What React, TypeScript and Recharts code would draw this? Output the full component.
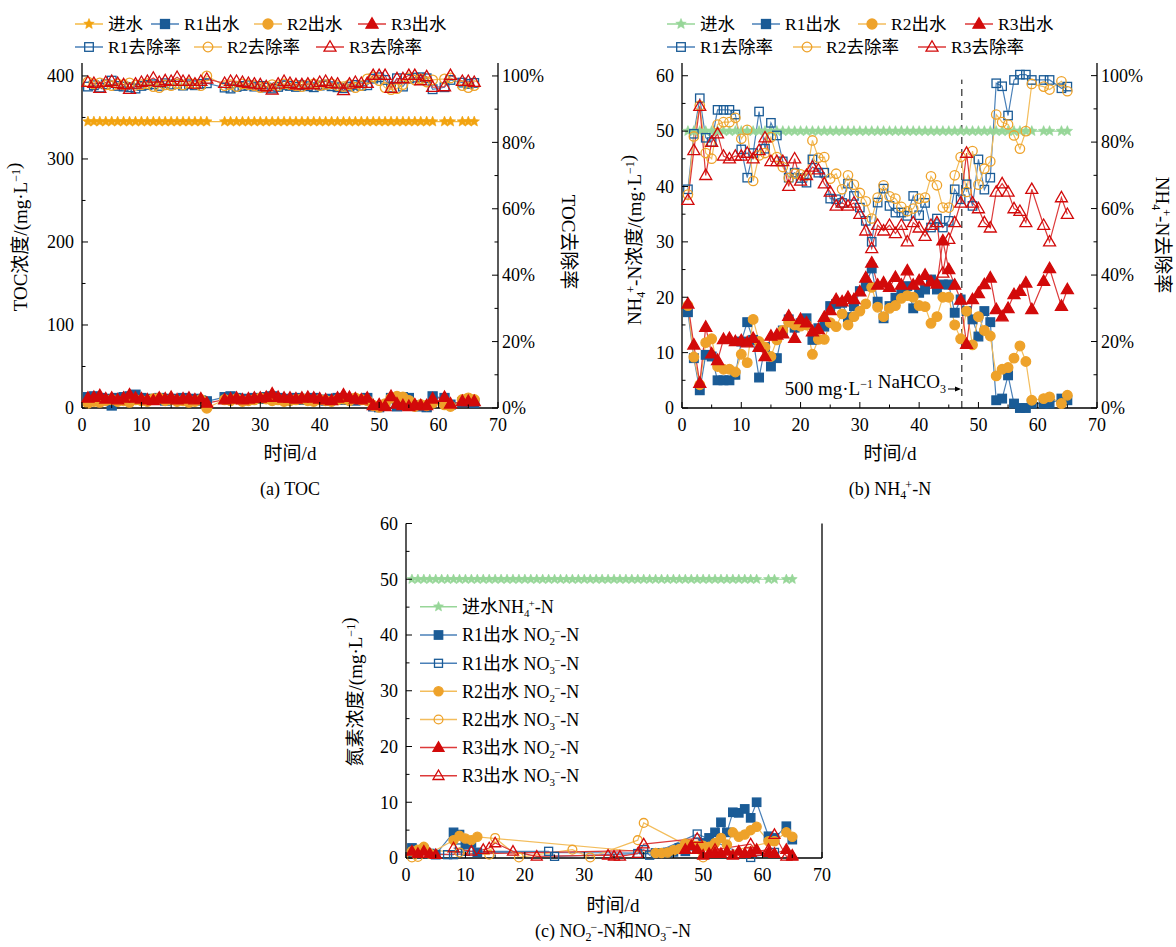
import React from "react";
import { LineChart, Line, XAxis, YAxis, Legend, ReferenceLine } from "recharts";

const FONT = "'Times New Roman', 'Liberation Serif', 'Noto Sans CJK SC', serif";

// ---------- (a) TOC ----------
const A_DAY = [
  1, 2, 3, 4, 5, 6, 7, 8, 9, 10, 11, 12, 13, 14, 15, 16, 17, 18, 19, 20, 21,
  24, 25, 26, 27, 28, 29, 30, 31, 32, 33, 34, 35, 36, 37, 38, 39, 40, 41, 42, 43, 44, 45, 46, 47, 48, 49, 50, 51, 52, 53, 54, 55, 56, 57, 58, 59,
  61, 62, 64, 65, 66,
];
const A_INF = [
  345, 345, 345, 345, 345, 345, 345, 345, 345, 345, 345, 345, 345, 345, 345, 345, 345, 345, 345, 345, 345,
  345, 345, 345, 345, 345, 345, 345, 345, 345, 345, 345, 345, 345, 345, 345, 345, 345, 345, 345, 345, 345, 345, 345, 345, 345, 345, 345, 345, 345, 345, 345, 345, 345, 345, 345, 345,
  345, 345, 345, 345, 345,
];
const A_R1_EFF = [
  13, 14, 12, 11, 3, 12, 13, 14, 16, 12, 11, 10, 12, 9, 11, 10, 12, 10, 11, 9, 8,
  13, 14, 12, 11, 10, 12, 11, 13, 14, 12, 10, 11, 12, 10, 11, 12, 10, 9, 11, 12, 10, 11, 9, 10, 12, 2, 1, 3, 12, 2, 13, 12, 3, 2, 1, 14,
  12, 4, 7, 8, 6,
];
const A_R2_EFF = [
  6, 8, 7, 9, 10, 8, 9, 7, 10, 9, 8, 11, 12, 9, 10, 8, 9, 7, 8, 10, 0,
  10, 9, 11, 8, 9, 10, 12, 11, 9, 10, 8, 9, 10, 11, 9, 8, 10, 9, 8, 10, 11, 9, 12, 10, 9, 3, 1, 5, 12, 14, 13, 9, 2, 4, 3, 6,
  4, 2, 10, 12, 10,
];
const A_R3_EFF = [
  12, 13, 15, 11, 12, 10, 12, 16, 12, 11, 10, 9, 12, 11, 13, 10, 11, 12, 10, 11, 6,
  10, 11, 12, 10, 11, 12, 12, 13, 17, 13, 12, 12, 11, 12, 13, 12, 11, 10, 9, 12, 16, 13, 11, 10, 12, 3, 4, 2, 14, 5, 3, 2, 4, 3, 3, 11,
  13, 5, 8, 8, 8,
];
const A_R1_RATE = [
  96.8, 97.2, 96.5, 97.5, 98.6, 97.0, 96.8, 96.6, 96.2, 97.0, 97.3, 97.5, 97.0, 97.8, 97.4, 97.6, 97.1, 97.5, 97.2, 97.6, 97.8,
  96.5, 96.2, 96.7, 97.0, 97.2, 96.8, 97.0, 96.5, 96.2, 96.7, 97.2, 97.0, 96.7, 97.2, 96.9, 96.6, 97.1, 97.4, 96.9, 96.6, 96.3, 96.8, 97.3, 97.0, 97.2, 99.2, 99.6, 98.8, 96.5, 99.3, 96.8, 99.2, 99.5, 99.6, 99.3, 96.0,
  96.6, 98.8, 98.0, 97.6, 97.9,
];
const A_R2_RATE = [
  98.2, 97.6, 97.9, 97.3, 97.1, 97.6, 97.4, 97.9, 97.2, 97.4, 97.7, 96.8, 96.5, 97.3, 97.1, 97.6, 97.3, 97.9, 97.6, 97.1, 100.0,
  97.1, 97.4, 96.8, 97.6, 97.4, 97.1, 96.5, 96.8, 97.4, 97.1, 97.6, 97.4, 97.1, 96.8, 97.4, 97.6, 97.1, 97.4, 97.6, 97.1, 96.8, 97.4, 96.5, 97.1, 99.1, 99.7, 98.6, 96.5, 95.9, 96.2, 97.4, 99.4, 98.8, 99.1, 98.2, 98.8,
  99.1, 99.4, 97.1, 96.5, 97.1,
];
const A_R3_RATE = [
  98.1, 97.8, 96.3, 98.1, 98.4, 97.8, 97.4, 96.0, 97.6, 98.1, 98.4, 99.4, 98.1, 98.6, 98.4, 99.6, 98.4, 98.4, 97.6, 98.4, 99.1,
  97.8, 98.4, 98.4, 98.1, 97.8, 97.6, 97.4, 96.8, 95.8, 97.6, 98.4, 97.8, 97.4, 97.4, 97.6, 97.4, 98.1, 98.4, 97.8, 97.6, 95.6, 97.6, 98.1, 97.8, 97.8, 100.2, 100.2, 100.2, 96.3, 99.2, 99.2, 100.2, 100.2, 98.6, 99.8, 96.6,
  96.8, 100.2, 98.4, 98.4, 98.1,
];

// ---------- (b) NH4+-N ----------
const B_DAY = [
  1, 2, 3, 4, 5, 6, 7, 8, 9, 10, 11, 12, 13, 14, 15, 16, 17, 18, 19, 20,
  21, 22, 23, 24, 25, 26, 27, 28, 29, 30, 31, 32, 33, 34, 35, 36, 37, 38, 39, 40,
  41, 42, 43, 44, 45, 46, 47, 48, 49, 50, 51, 52, 53, 54, 55, 56, 57, 58, 59,
  61, 62, 64, 65,
];
const B_INF = [
  50, 50, 50, 50, 50, 50, 50, 50, 50, 50, 50, 50, 50, 50, 50, 50, 50, 50, 50, 50,
  50, 50, 50, 50, 50, 50, 50, 50, 50, 50, 50, 50, 50, 50, 50, 50, 50, 50, 50, 50,
  50, 50, 50, 50, 50, 50, 50, 50, 50, 50, 50, 50, 50, 50, 50, 50, 50, 50, 50,
  50, 50, 50, 50,
];
const B_R1_EFF = [
  17.3, 9.0, 3.2, 9.6, 9.3, 5.0, 5.0, 5.0, 6.0, 12.0, 15.5, 12.3, 5.5, 11.0, 7.5, 9.0, 14.0, 16.0, 14.5, 15.3,
  16.2, 12.3, 14.4, 14.7, 18.4, 18.8, 19.0, 16.4, 18.4, 21.1, 22.0, 25.2, 19.2, 16.2, 18.4, 19.9, 21.0, 22.0, 18.0, 20.8,
  21.4, 23.2, 21.4, 22.3, 22.3, 17.2, 19.6, 17.5, 16.0, 12.9, 17.5, 15.5, 1.4, 1.7, 5.9, 0.8, 0.0, 0.0, 0.8,
  0.8, 0.8, 1.7, 1.4,
];
const B_R2_EFF = [
  18.5, 9.2, 4.2, 11.8, 12.5, 7.5, 7.0, 7.0, 6.5, 9.7, 8.2, 16.0, 12.0, 11.0, 9.3, 12.3, 14.0, 15.5, 15.0, 14.8,
  15.0, 9.7, 12.4, 12.4, 15.4, 14.7, 17.0, 15.0, 16.5, 17.5, 18.8, 21.8, 18.2, 16.5, 18.0, 18.5, 19.8, 20.3, 20.0, 18.5,
  18.3, 15.3, 16.5, 20.0, 20.0, 15.0, 12.5, 17.5, 11.4, 16.5, 14.0, 13.0, 5.8, 7.0, 7.3, 9.0, 11.2, 8.4, 1.4,
  1.7, 2.0, 0.8, 2.3,
];
const B_R3_EFF = [
  18.8, 11.4, 4.5, 14.6, 9.8, 8.6, 12.4, 12.6, 12.0, 12.2, 11.8, 12.6, 11.0, 9.3, 13.0, 13.2, 13.4, 16.6, 12.6, 16.0,
  15.4, 13.8, 14.2, 16.4, 17.6, 19.6, 19.2, 20.0, 19.6, 21.0, 23.5, 26.2, 22.2, 22.6, 21.8, 23.6, 22.2, 24.8, 22.2, 23.0,
  24.0, 22.8, 22.4, 30.2, 25.0, 22.2, 19.5, 11.5, 19.6, 20.7, 22.3, 23.5, 17.8, 16.5, 18.0, 20.5, 21.1, 22.6, 17.8,
  22.9, 25.2, 18.4, 21.4,
];
const B_R1_RATE = [
  65.8, 82.5, 93.2, 81.3, 80.0, 89.7, 89.7, 89.7, 88.3, 77.8, 69.3, 76.7, 89.2, 78.0, 85.8, 82.0, 74.2, 69.3, 70.8, 69.2,
  67.8, 74.8, 70.8, 70.8, 63.0, 62.8, 61.7, 67.5, 63.8, 60.3, 56.3, 50.0, 61.8, 66.0, 60.8, 58.8, 58.8, 57.8, 63.8, 58.0,
  61.7, 54.3, 57.0, 54.3, 56.3, 65.8, 62.8, 67.3, 60.8, 74.8, 65.7, 69.3, 97.7, 96.8, 88.0, 98.7, 100.3, 100.3, 98.7,
  98.7, 98.7, 96.2, 96.7,
];
const B_R2_RATE = [
  64.2, 81.7, 91.0, 76.7, 75.0, 85.3, 86.0, 86.0, 87.3, 81.0, 83.7, 68.3, 76.0, 76.7, 81.5, 75.5, 72.5, 69.2, 70.5, 70.3,
  70.0, 80.5, 75.3, 75.5, 69.0, 70.5, 65.8, 70.0, 67.2, 64.7, 62.2, 57.0, 63.3, 67.0, 63.7, 63.0, 60.5, 59.2, 60.0, 63.0,
  63.3, 69.7, 67.0, 60.3, 60.3, 70.0, 75.5, 65.0, 77.3, 67.2, 72.0, 74.2, 88.3, 86.0, 85.3, 82.0, 78.0, 83.3, 97.5,
  96.7, 95.8, 98.3, 95.3,
];
const B_R3_RATE = [
  62.5, 77.5, 90.8, 70.0, 80.0, 82.5, 75.8, 75.0, 75.8, 75.8, 76.7, 75.0, 77.5, 81.3, 74.2, 74.2, 74.2, 66.7, 75.0, 68.3,
  70.0, 72.5, 71.7, 67.5, 65.0, 60.8, 61.7, 60.8, 61.7, 58.3, 53.3, 48.0, 55.0, 53.3, 55.0, 52.5, 55.0, 50.0, 55.8, 54.2,
  51.7, 55.0, 55.8, 40.6, 50.8, 55.8, 61.7, 76.7, 61.7, 60.0, 55.8, 54.2, 65.0, 67.5, 65.0, 60.0, 59.2, 55.8, 65.8,
  55.0, 50.0, 63.3, 58.3,
];
const NAHCO3_DAY = 47.2;

// ---------- (c) NO2- / NO3- ----------
const C_R1_NO2_DAY = [1, 2, 3, 4, 5, 8, 9, 10, 11, 12, 42, 43, 44, 45, 46, 47, 48, 49, 50, 51, 52, 53, 54, 55, 56, 57, 58, 59, 61, 62, 64, 65];
const C_R1_NO2 = [1.8, 1.2, 1.5, 0.8, 0.6, 4.6, 4.2, 2.4, 2.7, 1.0, 0.9, 0.9, 1.0, 1.1, 1.8, 1.2, 2.2, 2.0, 2.7, 3.6, 4.6, 6.4, 4.6, 8.2, 8.1, 8.8, 7.2, 10.0, 3.9, 3.6, 5.7, 3.3];
const C_R1_NO3_DAY = [1, 7, 8, 9, 10, 24, 25, 39, 40, 41, 49, 58, 62];
const C_R1_NO3 = [1.0, 0.6, 0.6, 1.8, 1.2, 1.2, 0.3, 0.8, 1.5, 0.5, 4.3, 0.1, 1.0];
const C_R2_NO2_DAY = [1, 2, 3, 4, 8, 9, 10, 11, 12, 42, 43, 44, 45, 46, 47, 48, 49, 50, 51, 52, 53, 54, 55, 56, 57, 58, 59, 61, 62, 64, 65];
const C_R2_NO2 = [1.2, 1.5, 2.0, 0.8, 3.2, 4.0, 3.5, 3.2, 3.8, 0.9, 0.9, 1.0, 1.4, 1.6, 2.6, 2.4, 2.2, 2.2, 2.0, 2.7, 3.6, 2.4, 4.6, 3.8, 4.2, 5.0, 5.6, 3.0, 3.0, 4.6, 3.8];
const C_R2_NO3_DAY = [1, 2, 3, 9, 14, 15, 19, 28, 31, 39, 40, 47, 50, 62];
const C_R2_NO3 = [0.1, 0.2, 1.5, 1.0, 0.6, 3.6, 0.1, 1.5, 0.1, 3.2, 6.3, 2.4, 0.1, 3.0];
const C_R3_NO2_DAY = [1, 2, 3, 4, 5, 47, 48, 49, 50, 51, 52, 53, 54, 55, 56, 57, 58, 59, 61, 62, 64, 65];
const C_R3_NO2 = [1.2, 0.8, 1.2, 0.8, 0.6, 1.5, 2.2, 1.5, 0.5, 0.8, 1.0, 0.8, 1.2, 0.5, 1.2, 0.8, 1.0, 1.5, 1.0, 0.8, 1.5, 0.3];
const C_R3_NO3_DAY = [8, 11, 13, 14, 15, 18, 22, 34, 35, 36, 39, 40, 49, 52, 58, 59, 61, 62, 64, 65];
const C_R3_NO3 = [1.8, 1.2, 1.5, 1.8, 2.7, 1.2, 0.3, 0.5, 0.3, 0.3, 0.8, 2.5, 3.5, 1.5, 2.5, 1.2, 1.5, 4.2, 0.3, 0.5];

// ---------- ticks ----------
const X_TICKS = [0, 5, 10, 15, 20, 25, 30, 35, 40, 45, 50, 55, 60, 65, 70];
const A_LEFT_TICKS = [0, 50, 100, 150, 200, 250, 300, 350, 400];
const PCT_TICKS = [0, 10, 20, 30, 40, 50, 60, 70, 80, 90, 100];
const N_TICKS = [0, 5, 10, 15, 20, 25, 30, 35, 40, 45, 50, 55, 60];

const BLUE = "#1a5b96";
const BLUE_LINE = "#4a80b8";
const ORANGE = "#eea22a";
const ORANGE_LINE = "#f3bd5c";
const RED = "#d20a0a";
const RED_LINE = "#dd3a3a";
const GREEN = "#97d698";
const STAR_OR = "#f2a30f";
const STAR_LINE = "#f5ba45";

type Shape = "star" | "square" | "circle" | "triangle";

function starPath(cx: number, cy: number, r: number) {
  let d = "";
  for (let i = 0; i < 10; i++) {
    const rr = i % 2 === 0 ? r : r * 0.45;
    const a = -Math.PI / 2 + (i * Math.PI) / 5;
    d += (i === 0 ? "M" : "L") + (cx + rr * Math.cos(a)).toFixed(2) + "," + (cy + rr * Math.sin(a)).toFixed(2);
  }
  return d + "Z";
}

function marker(shape: Shape, cx: number, cy: number, s: number, color: string, filled: boolean, key: string) {
  const st = { stroke: color, strokeWidth: 1.3, fill: filled ? color : "none" };
  if (shape === "square") return <rect key={key} x={cx - s} y={cy - s} width={2 * s} height={2 * s} {...st} />;
  if (shape === "circle") return <circle key={key} cx={cx} cy={cy} r={s} {...st} />;
  if (shape === "triangle") {
    const h = s * 1.732;
    return <path key={key} d={`M${cx},${cy - h * 0.6}L${cx + s},${cy + h * 0.4}L${cx - s},${cy + h * 0.4}Z`} {...st} />;
  }
  return <path key={key} d={starPath(cx, cy, s)} fill={color} stroke={color} strokeWidth={0.6} />;
}

function dotOf(shape: Shape, s: number, color: string, filled: boolean) {
  return (p: any) =>
    p.cx == null || p.cy == null ? <g key={`e${p.index}`} /> : marker(shape, p.cx, p.cy, s, color, filled, `m${p.index}`);
}

function xTick(p: any) {
  const v = p.payload.value;
  const major = v % 10 === 0;
  return (
    <g key={`x${v}`}>
      <line x1={p.x} x2={p.x} y1={p.y} y2={p.y - (major ? 6 : 3.5)} stroke="#000" />
      {major && (
        <text x={p.x} y={p.y + 17} dy="0.35em" textAnchor="middle" fontSize={18} fontFamily={FONT} fill="#000">
          {v}
        </text>
      )}
    </g>
  );
}
function leftTick(every: number) {
  return (p: any) => {
    const v = p.payload.value;
    const major = v % every === 0;
    return (
      <g key={`l${v}`}>
        <line x1={p.x} x2={p.x + (major ? 6 : 3.5)} y1={p.y} y2={p.y} stroke="#000" />
        {major && (
          <text x={p.x - 8} y={p.y} dy="0.35em" textAnchor="end" fontSize={18} fontFamily={FONT} fill="#000">
            {v}
          </text>
        )}
      </g>
    );
  };
}
function pctTick(p: any) {
  const v = p.payload.value;
  const major = v % 20 === 0;
  return (
    <g key={`r${v}`}>
      <line x1={p.x} x2={p.x - (major ? 6 : 3.5)} y1={p.y} y2={p.y} stroke="#000" />
      {major && (
        <text x={p.x + 4} y={p.y} dy="0.35em" textAnchor="start" fontSize={18} fontFamily={FONT} fill="#000">
          {v}%
        </text>
      )}
    </g>
  );
}

// ---------- legend ----------
type LegItem = { label: React.ReactNode; x: number; y: number; shape: Shape; color: string; line: string; filled: boolean; size: number };

function LegendBox({ items, w, h, len, gap, fs }: { items: LegItem[]; w: number; h: number; len: number; gap: number; fs: number }) {
  return (
    <svg width={w} height={h} style={{ overflow: "visible", display: "block" }}>
      {items.map((it, i) => (
        <g key={i}>
          <line x1={it.x} x2={it.x + len} y1={it.y} y2={it.y} stroke={it.line} strokeWidth={1.5} />
          {marker(it.shape, it.x + len / 2, it.y, it.size, it.color, it.filled, "m")}
          <text x={it.x + len + gap} y={it.y} dy="0.35em" fontSize={fs} fontFamily={FONT} fill="#000">
            {it.label}
          </text>
        </g>
      ))}
    </svg>
  );
}

// NO2−-N style label: subscript digit followed by a raised minus
const ION = (base: string, n: string, charge: string, fs: number) => (
  <>
    {base}
    <tspan dy={4} fontSize={fs}>{n}</tspan>
    <tspan dx={-1} dy={-10} fontSize={fs}>{charge}</tspan>
    <tspan dy={6}>-N</tspan>
  </>
);

const axisLine = { stroke: "#000", strokeWidth: 1.3 };

function seriesLine(key: string, yAxisId: string, shape: Shape, s: number, color: string, line: string, filled: boolean) {
  return (
    <Line
      key={key}
      dataKey={key}
      yAxisId={yAxisId}
      type="linear"
      stroke={line}
      strokeWidth={1.2}
      dot={dotOf(shape, s, color, filled)}
      activeDot={false}
      isAnimationActive={false}
      connectNulls
    />
  );
}

function ChartA() {
  const data = A_DAY.map((day, i) => ({
    day,
    inf: A_INF[i],
    e1: A_R1_EFF[i],
    e2: A_R2_EFF[i],
    e3: A_R3_EFF[i],
    p1: A_R1_RATE[i],
    p2: A_R2_RATE[i],
    p3: A_R3_RATE[i],
  }));
  const items: LegItem[] = [
    { label: "进水", x: 75, y: 24, shape: "star", color: STAR_OR, line: STAR_LINE, filled: true, size: 5.5 },
    { label: "R1出水", x: 151, y: 24, shape: "square", color: BLUE, line: BLUE_LINE, filled: true, size: 4.5 },
    { label: "R2出水", x: 254, y: 24, shape: "circle", color: ORANGE, line: ORANGE_LINE, filled: true, size: 5 },
    { label: "R3出水", x: 358, y: 24, shape: "triangle", color: RED, line: RED_LINE, filled: true, size: 6 },
    { label: "R1去除率", x: 75, y: 47, shape: "square", color: BLUE, line: BLUE_LINE, filled: false, size: 4.3 },
    { label: "R2去除率", x: 194, y: 47, shape: "circle", color: ORANGE, line: ORANGE_LINE, filled: false, size: 4.8 },
    { label: "R3去除率", x: 316, y: 47, shape: "triangle", color: RED, line: RED_LINE, filled: false, size: 6 },
  ];
  return (
    <LineChart width={600} height={440} data={data} margin={{ top: 63, right: 62, bottom: 12, left: 42 }}>
      <XAxis dataKey="day" type="number" domain={[0, 70]} ticks={X_TICKS} interval={0} tickSize={0} tickMargin={0} tickLine={false} axisLine={axisLine} tick={xTick} height={20} />
      <XAxis xAxisId="top" orientation="top" dataKey="day" type="number" domain={[0, 70]} tick={false} tickLine={false} axisLine={axisLine} height={0} />
      <YAxis yAxisId="left" type="number" domain={[0, 415.6]} ticks={A_LEFT_TICKS} interval={0} tickSize={0} tickMargin={0} tickLine={false} axisLine={axisLine} tick={leftTick(100)} width={40} />
      <YAxis yAxisId="right" orientation="right" type="number" domain={[0, 103.9]} ticks={PCT_TICKS} interval={0} tickSize={0} tickMargin={0} tickLine={false} axisLine={axisLine} tick={pctTick} width={40} />
      {seriesLine("inf", "left", "star", 5.5, STAR_OR, STAR_LINE, true)}
      {seriesLine("e1", "left", "square", 4.5, BLUE, BLUE_LINE, true)}
      {seriesLine("e2", "left", "circle", 5, ORANGE, ORANGE_LINE, true)}
      {seriesLine("e3", "left", "triangle", 6, RED, RED_LINE, true)}
      {seriesLine("p1", "right", "square", 4.3, BLUE, BLUE_LINE, false)}
      {seriesLine("p2", "right", "circle", 4.8, ORANGE, ORANGE_LINE, false)}
      {seriesLine("p3", "right", "triangle", 6, RED, RED_LINE, false)}
      <Legend layout="horizontal" verticalAlign="middle" align="center" wrapperStyle={{ top: 0, left: 0, width: 600, height: 70 }} content={() => <LegendBox items={items} w={600} h={70} len={28} gap={5} fs={17.5} />} />
    </LineChart>
  );
}

function ChartB() {
  const data = B_DAY.map((day, i) => ({
    day,
    inf: B_INF[i],
    e1: B_R1_EFF[i],
    e2: B_R2_EFF[i],
    e3: B_R3_EFF[i],
    p1: B_R1_RATE[i],
    p2: B_R2_RATE[i],
    p3: B_R3_RATE[i],
  }));
  const items: LegItem[] = [
    { label: "进水", x: 67, y: 24, shape: "star", color: GREEN, line: GREEN, filled: true, size: 5.5 },
    { label: "R1出水", x: 152, y: 24, shape: "square", color: BLUE, line: BLUE_LINE, filled: true, size: 4.5 },
    { label: "R2出水", x: 258, y: 24, shape: "circle", color: ORANGE, line: ORANGE_LINE, filled: true, size: 5 },
    { label: "R3出水", x: 365, y: 24, shape: "triangle", color: RED, line: RED_LINE, filled: true, size: 6 },
    { label: "R1去除率", x: 67, y: 47, shape: "square", color: BLUE, line: BLUE_LINE, filled: false, size: 4.3 },
    { label: "R2去除率", x: 193, y: 47, shape: "circle", color: ORANGE, line: ORANGE_LINE, filled: false, size: 4.8 },
    { label: "R3去除率", x: 318, y: 47, shape: "triangle", color: RED, line: RED_LINE, filled: false, size: 6 },
  ];
  return (
    <LineChart width={576} height={440} data={data} margin={{ top: 63, right: 39, bottom: 12, left: 42 }}>
      <XAxis dataKey="day" type="number" domain={[0, 70]} ticks={X_TICKS} interval={0} tickSize={0} tickMargin={0} tickLine={false} axisLine={axisLine} tick={xTick} height={20} />
      <XAxis xAxisId="top" orientation="top" dataKey="day" type="number" domain={[0, 70]} tick={false} tickLine={false} axisLine={axisLine} height={0} />
      <YAxis yAxisId="left" type="number" domain={[0, 62.3]} ticks={N_TICKS} interval={0} tickSize={0} tickMargin={0} tickLine={false} axisLine={axisLine} tick={leftTick(10)} width={40} />
      <YAxis yAxisId="right" orientation="right" type="number" domain={[0, 103.8]} ticks={PCT_TICKS} interval={0} tickSize={0} tickMargin={0} tickLine={false} axisLine={axisLine} tick={pctTick} width={40} />
      <ReferenceLine
        yAxisId="left"
        segment={[
          { x: NAHCO3_DAY, y: 0 },
          { x: NAHCO3_DAY, y: 59.3 },
        ]}
        stroke="#000"
        strokeWidth={1}
        strokeDasharray="7 5"
      />
      {seriesLine("inf", "left", "star", 5.5, GREEN, GREEN, true)}
      {seriesLine("e1", "left", "square", 4.3, BLUE, BLUE_LINE, true)}
      {seriesLine("e2", "left", "circle", 4.8, ORANGE, ORANGE_LINE, true)}
      {seriesLine("e3", "left", "triangle", 6, RED, RED_LINE, true)}
      {seriesLine("p1", "right", "square", 4.2, BLUE, BLUE_LINE, false)}
      {seriesLine("p2", "right", "circle", 4.7, ORANGE, ORANGE_LINE, false)}
      {seriesLine("p3", "right", "triangle", 6, RED, RED_LINE, false)}
      <Legend layout="horizontal" verticalAlign="middle" align="center" wrapperStyle={{ top: 0, left: 0, width: 576, height: 70 }} content={() => <LegendBox items={items} w={576} h={70} len={28} gap={5} fs={17.5} />} />
    </LineChart>
  );
}

function ChartC() {
  const mk = (days: number[], vals: number[]) => days.map((day, i) => ({ day, v: vals[i] }));
  const series = [
    { id: "in", data: mk(B_DAY, B_INF), shape: "star" as Shape, s: 5.2, color: GREEN, line: GREEN, filled: true },
    { id: "r1n2", data: mk(C_R1_NO2_DAY, C_R1_NO2), shape: "square" as Shape, s: 4.2, color: BLUE, line: BLUE_LINE, filled: true },
    { id: "r1n3", data: mk(C_R1_NO3_DAY, C_R1_NO3), shape: "square" as Shape, s: 4, color: BLUE, line: BLUE_LINE, filled: false },
    { id: "r2n2", data: mk(C_R2_NO2_DAY, C_R2_NO2), shape: "circle" as Shape, s: 4.6, color: ORANGE, line: ORANGE_LINE, filled: true },
    { id: "r2n3", data: mk(C_R2_NO3_DAY, C_R2_NO3), shape: "circle" as Shape, s: 4.4, color: ORANGE, line: ORANGE_LINE, filled: false },
    { id: "r3n2", data: mk(C_R3_NO2_DAY, C_R3_NO2), shape: "triangle" as Shape, s: 5.5, color: RED, line: RED_LINE, filled: true },
    { id: "r3n3", data: mk(C_R3_NO3_DAY, C_R3_NO3), shape: "triangle" as Shape, s: 5.5, color: RED, line: RED_LINE, filled: false },
  ];
  const labels: React.ReactNode[] = [
    <>进水{ION("NH", "4", "+", 11)}</>,
    <>R1出水 {ION("NO", "2", "−", 11)}</>,
    <>R1出水 {ION("NO", "3", "−", 11)}</>,
    <>R2出水 {ION("NO", "2", "−", 11)}</>,
    <>R2出水 {ION("NO", "3", "−", 11)}</>,
    <>R3出水 {ION("NO", "2", "−", 11)}</>,
    <>R3出水 {ION("NO", "3", "−", 11)}</>,
  ];
  const rowsY = [146.7, 175, 203.3, 231.3, 259.5, 287.5, 315.7];
  const items: LegItem[] = series.map((s, i) => ({
    label: labels[i],
    x: 120,
    y: rowsY[i],
    shape: s.shape,
    color: s.color,
    line: s.line,
    filled: s.filled,
    size: s.s,
  }));
  return (
    <LineChart width={600} height={470} margin={{ top: 63.5, right: 38, bottom: 52, left: 66 }}>
      <XAxis dataKey="day" type="number" domain={[0, 70]} ticks={X_TICKS} interval={0} tickSize={0} tickMargin={0} tickLine={false} axisLine={axisLine} tick={xTick} height={20} allowDuplicatedCategory={false} />
      <XAxis xAxisId="top" orientation="top" dataKey="day" type="number" domain={[0, 70]} tick={false} tickLine={false} axisLine={axisLine} height={0} />
      <YAxis yAxisId="left" type="number" domain={[0, 60]} ticks={N_TICKS} interval={0} tickSize={0} tickMargin={0} tickLine={false} axisLine={axisLine} tick={leftTick(10)} width={40} />
      <YAxis yAxisId="right" orientation="right" type="number" domain={[0, 60]} tick={false} tickLine={false} axisLine={axisLine} width={40} />
      {series.map((s) => (
        <Line
          key={s.id}
          data={s.data}
          dataKey="v"
          yAxisId="left"
          type="linear"
          stroke={s.line}
          strokeWidth={1.2}
          dot={dotOf(s.shape, s.s, s.color, s.filled)}
          activeDot={false}
          isAnimationActive={false}
        />
      ))}
      <Legend layout="horizontal" verticalAlign="middle" align="center" wrapperStyle={{ top: 0, left: 0, width: 600, height: 470 }} content={() => <LegendBox items={items} w={600} h={470} len={37} gap={5} fs={18} />} />
    </LineChart>
  );
}

function Overlay() {
  const sup = (t: string) => (
    <>
      <tspan dy={-7} fontSize={12}>{t}</tspan>
      <tspan dy={7}>{""}</tspan>
    </>
  );
  return (
    <svg width={1176} height={947} style={{ position: "absolute", left: 0, top: 0, pointerEvents: "none" }} fontFamily={FONT} fill="#000">
      <text transform="translate(20,237) rotate(-90)" textAnchor="middle" dy="0.35em" fontSize={19}>
        TOC浓度/(mg·L{sup("−1")})
      </text>
      <text transform="translate(569,242) rotate(90)" textAnchor="middle" dy="0.35em" fontSize={19}>
        TOC去除率
      </text>
      <text x={290} y={453} textAnchor="middle" dy="0.35em" fontSize={19}>时间/d</text>
      <text x={290} y={489} textAnchor="middle" dy="0.35em" fontSize={18}>(a) TOC</text>

      <text transform="translate(634,240) rotate(-90)" textAnchor="middle" dy="0.35em" fontSize={19}>
        {ION("NH", "4", "+", 12)}浓度/(mg·L{sup("−1")})
      </text>
      <text transform="translate(1163,235) rotate(90)" textAnchor="middle" dy="0.35em" fontSize={19}>
        {ION("NH", "4", "+", 12)}去除率
      </text>
      <text x={890} y={453} textAnchor="middle" dy="0.35em" fontSize={19}>时间/d</text>
      <text x={890} y={489} textAnchor="middle" dy="0.35em" fontSize={18}>
        (b) {ION("NH", "4", "+", 12)}
      </text>
      <text x={946} y={388} textAnchor="end" dy="0.35em" fontSize={19}>
        500 mg·L{sup("−1")} NaHCO<tspan dy={5} fontSize={12}>3</tspan>
      </text>
      <line x1={948} x2={956} y1={389} y2={389} stroke="#000" strokeWidth={1} />
      <path d="M961,389 L955,386.5 L955,391.5 Z" fill="#000" />

      <text transform="translate(355,692) rotate(-90)" textAnchor="middle" dy="0.35em" fontSize={19}>
        氮素浓度/(mg·L{sup("−1")})
      </text>
      <text x={613} y={905} textAnchor="middle" dy="0.35em" fontSize={19}>时间/d</text>
      <text x={613} y={931} textAnchor="middle" dy="0.35em" fontSize={18}>
        (c) {ION("NO", "2", "−", 12)}和{ION("NO", "3", "−", 12)}
      </text>
    </svg>
  );
}

export default function App() {
  return (
    <div style={{ position: "absolute", left: 0, top: 0, width: 1176, height: 947, background: "#fff", fontFamily: FONT }}>
      <div style={{ position: "absolute", left: 0, top: 0 }}>
        <ChartA />
      </div>
      <div style={{ position: "absolute", left: 600, top: 0 }}>
        <ChartB />
      </div>
      <div style={{ position: "absolute", left: 300, top: 460 }}>
        <ChartC />
      </div>
      <Overlay />
    </div>
  );
}
